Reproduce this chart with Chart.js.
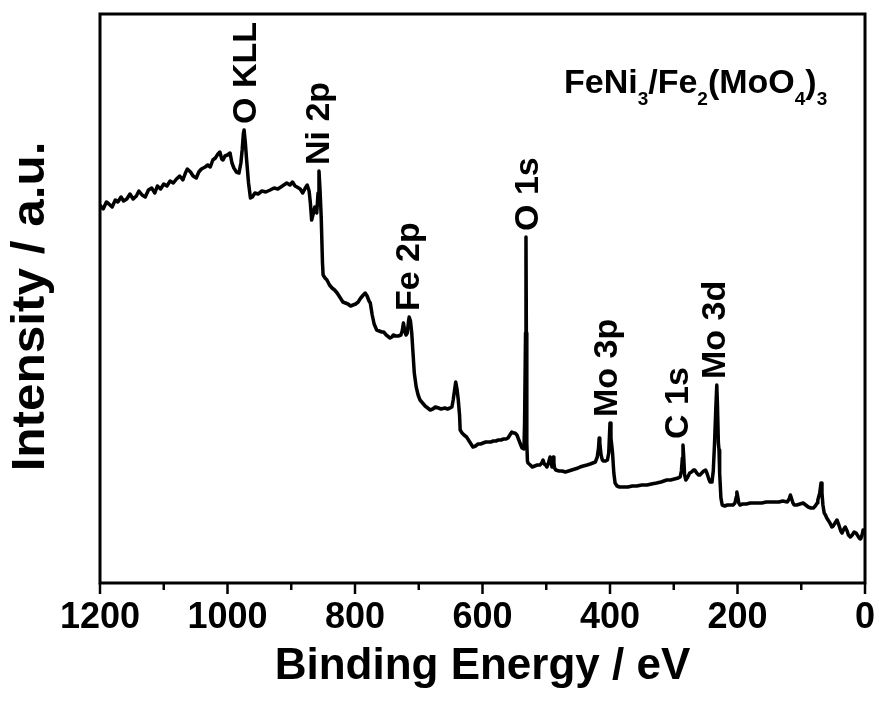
<!DOCTYPE html>
<html>
<head>
<meta charset="utf-8">
<script src="https://cdn.jsdelivr.net/npm/chart.js@4/dist/chart.umd.min.js"></script>
<style>
  html, body { margin: 0; padding: 0; background: #fff; }
  #wrap { width: 879px; height: 707px; }
</style>
</head>
<body>
<div id="wrap"><canvas id="xps" width="879" height="707"></canvas></div>
<script>
// XPS survey spectrum of FeNi3/Fe2(MoO4)3: binding energy (eV) and intensity (a.u.)
const bindingEnergy = [
  1200, 1195, 1190, 1186, 1181, 1176, 1172, 1167, 1163, 1158,
  1153, 1148, 1143, 1139, 1134, 1129, 1124, 1119, 1114, 1110,
  1105, 1100, 1095, 1090, 1085, 1080, 1075, 1070, 1066, 1063,
  1058, 1054, 1049, 1045, 1041, 1035, 1031, 1027, 1023, 1019,
  1015, 1012, 1009, 1007, 1004, 1000, 996, 993, 990, 986,
  982, 979, 977, 975, 974, 972, 970, 967, 964, 961,
  957, 952, 946, 940, 933, 927, 921, 914, 907, 902,
  898, 894, 891, 886, 882, 878, 875, 872, 870, 868,
  866, 863, 861, 860, 858, 856.5, 855, 853, 851, 850,
  847, 844, 840, 836, 832, 828, 824, 819, 815, 811,
  807, 803, 799, 795, 791, 787, 784, 781, 778, 776,
  773, 770, 766, 762, 758, 755, 751, 747, 745, 742,
  740, 736, 732, 728, 726, 724, 722, 720, 718, 716,
  715, 713, 711, 709, 707, 704, 701, 698, 694, 690,
  686, 682, 678, 674, 669, 665, 659, 655, 651, 648,
  646, 644, 642, 640, 638, 636, 635, 632, 629, 625,
  621, 618, 615, 611, 607, 603, 599, 595, 591, 587,
  583, 579, 575, 571, 567, 563, 560, 557, 554, 551,
  549, 546, 543, 540, 538, 535, 534, 532.5, 531.8, 531.2,
  530.5, 529.5, 528.6, 525, 522, 518, 514, 510, 507, 505,
  503, 501, 499, 497, 494, 492, 491, 490, 489, 488,
  487, 485, 480, 475, 470, 465, 460, 455, 450, 447,
  442, 436, 431, 427, 423, 420, 418, 417, 416, 414,
  412, 410, 407, 404, 402, 400, 398.5, 396, 394, 392,
  389, 385, 380, 372, 365, 358, 350, 342, 335, 327,
  320, 311, 305, 299, 293, 290, 288, 286.5, 285.5, 284.5,
  283, 281, 278, 275, 272, 269, 267, 264, 261, 259,
  256, 253, 250, 248, 245, 243, 240, 238, 236, 234,
  232.5, 231.5, 230, 229, 228, 226, 224, 220, 216, 212,
  207, 204, 202, 201, 199.5, 198, 196, 192, 186, 180,
  174, 168, 162, 155, 148, 141, 135, 129, 122, 119,
  117, 115, 113, 111, 107, 102, 97, 93, 89, 85,
  81, 78, 75, 74, 71, 69, 67.5, 66, 64, 62,
  60, 58, 55, 52, 50, 47, 44, 41, 38, 36,
  34, 31, 28, 26, 23, 20, 17, 14, 12, 9,
  7, 5, 3, 1, 0
];
const intensity = [
  378, 374, 381, 379, 376, 383, 381, 386, 382, 384,
  389, 384, 387, 392, 388, 386, 393, 395, 390, 397,
  394, 399, 397, 402, 400, 404, 407, 403, 410, 414,
  411, 407, 405, 411, 414, 416, 418, 416, 423, 425,
  429, 431, 424, 423, 427, 428, 430, 420, 415, 411,
  410, 420, 433, 450, 453, 440, 423, 400, 385, 386,
  390, 389, 392, 391, 393, 395, 394, 397, 400, 398,
  401, 397, 396, 394, 390, 395, 398, 392, 380, 363,
  368, 376, 372, 370, 390, 412, 395, 366, 320, 308,
  305, 303, 298, 295, 293, 290, 286, 281, 280, 279,
  277, 278, 279, 281, 285, 288, 290, 287, 282, 280,
  268, 259, 253, 252, 251, 251, 248, 246, 245, 246,
  248, 247, 247, 248, 252, 260, 252, 248, 250, 262,
  266, 262, 250, 230, 210, 196, 188, 183, 180, 177,
  175, 173, 174, 176, 175, 174, 175, 174, 175, 176,
  183, 192, 201, 194, 183, 168, 153, 150, 148, 146,
  142, 139, 136, 137, 139, 139, 140, 141, 141, 141,
  142, 142, 143, 143, 144, 144, 145, 148, 151, 150,
  150, 148, 143, 138, 135, 134, 160, 250, 346, 250,
  140, 122, 120, 118, 116, 117, 118, 118, 120, 123,
  119, 118, 116, 119, 126, 119, 116, 120, 126, 120,
  115, 113, 112, 112, 111, 112, 113, 114, 115, 116,
  117, 118, 119, 120, 121, 126, 135, 145, 140, 128,
  123, 122, 122, 123, 130, 160, 145, 130, 110, 100,
  97, 96, 96, 96, 97, 97, 98, 98, 99, 100,
  101, 103, 103, 104, 105, 106, 112, 125, 138, 128,
  108, 103, 106, 110, 111, 113, 113, 110, 108, 108,
  110, 112, 113, 110, 104, 101, 101, 112, 140, 175,
  198, 180, 140, 133, 110, 85, 78, 77, 78, 78,
  78, 80, 86, 91, 86, 80, 78, 79, 79, 80,
  80, 80, 80, 81, 81, 81, 81, 82, 81, 84,
  88, 84, 80, 78, 78, 79, 80, 78, 76, 75,
  75, 77, 80, 83, 90, 100, 90, 78, 70, 68,
  65, 63, 60, 56, 57, 60, 63, 58, 52, 50,
  53, 56, 52, 48, 46, 48, 51, 50, 48, 45,
  44, 47, 53, 50, 48
];

// Axis ticks (eV)
const xTickValues = [1200, 1000, 800, 600, 400, 200, 0];
const xMinorTicks = [1100, 900, 700, 500, 300, 100];

// Peak assignments and the energies their labels sit over
const peakNames = ['O KLL', 'Ni 2p', 'Fe 2p', 'O 1s', 'Mo 3p', 'C 1s', 'Mo 3d'];
const peakLabelEnergy = [970, 855, 714, 527, 404, 292, 234];

// Sample name: [text, isSubscript]
const formulaParts = [['FeNi', 0], ['3', 1], ['/Fe', 0], ['2', 1], ['(MoO', 0], ['4', 1], [')', 0], ['3', 1]];

const yTitle = 'Intensity / a.u.';

const FONT = "'Liberation Sans', Arial, Helvetica, sans-serif";
const points = bindingEnergy.map((e, i) => ({ x: e, y: intensity[i] }));

// Frame, tick marks, peak labels, sample name and the intensity axis title
const decorations = {
  id: 'xpsDecor',
  afterDatasetsDraw(chart) {
    const { ctx, chartArea: a, scales: { x, y } } = chart;
    ctx.save();
    ctx.strokeStyle = '#000';
    ctx.lineWidth = 3;
    ctx.strokeRect(a.left, a.top, a.right - a.left, a.bottom - a.top);

    ctx.lineWidth = 2.5;
    const tick = (v, len) => {
      const px = x.getPixelForValue(v);
      ctx.beginPath();
      ctx.moveTo(px, a.bottom);
      ctx.lineTo(px, a.bottom + len);
      ctx.stroke();
    };
    xTickValues.forEach(v => tick(v, 11));
    xMinorTicks.forEach(v => tick(v, 7));

    ctx.fillStyle = '#000';
    ctx.font = `bold 34px ${FONT}`;
    ctx.textAlign = 'left';
    ctx.textBaseline = 'middle';
    peakNames.forEach((name, i) => {
      const e0 = peakLabelEnergy[i];
      let top = -Infinity;
      bindingEnergy.forEach((e, j) => {
        if (Math.abs(e - e0) <= 8 && intensity[j] > top) top = intensity[j];
      });
      const px = x.getPixelForValue(e0);
      const py = y.getPixelForValue(top) - 6;
      ctx.save();
      ctx.translate(px, py);
      ctx.rotate(-Math.PI / 2);
      ctx.fillText(name, 0, 0);
      ctx.restore();
    });

    let cx = a.right - 301;
    const base = a.top + 79;
    ctx.textBaseline = 'alphabetic';
    formulaParts.forEach(([t, sub]) => {
      ctx.font = sub ? `bold 19px ${FONT}` : `bold 34px ${FONT}`;
      ctx.fillText(t, cx, sub ? base + 12 : base);
      cx += ctx.measureText(t).width;
    });

    ctx.font = `bold 46px ${FONT}`;
    ctx.textAlign = 'center';
    ctx.textBaseline = 'middle';
    ctx.save();
    ctx.translate(31, (a.top + a.bottom) / 2 + 8);
    ctx.rotate(-Math.PI / 2);
    ctx.scale(1.075, 1);
    ctx.fillText(yTitle, 0, 0);
    ctx.restore();
    ctx.restore();
  }
};

new Chart(document.getElementById('xps'), {
  type: 'line',
  data: {
    datasets: [{
      data: points,
      borderColor: '#000',
      borderWidth: 3.5,
      pointRadius: 0,
      tension: 0,
      fill: false,
      borderJoinStyle: 'round'
    }]
  },
  options: {
    responsive: false,
    animation: false,
    devicePixelRatio: 1,
    layout: { padding: { top: 14, right: 14, left: 0, bottom: 0 } },
    plugins: { legend: { display: false }, tooltip: { enabled: false } },
    scales: {
      x: {
        type: 'linear',
        reverse: true,
        min: 0,
        max: 1200,
        afterBuildTicks: s => { s.ticks = xTickValues.map(v => ({ value: v })); },
        afterFit: s => { s.height = 124; s.paddingLeft = 0; s.paddingRight = 0; },
        grid: { display: false, drawTicks: false },
        border: { display: false },
        ticks: {
          color: '#000', padding: 13, maxRotation: 0, autoSkip: false,
          font: { family: FONT, size: 36, weight: 'bold' },
          callback: v => String(v)
        },
        title: {
          display: true, text: 'Binding Energy / eV', color: '#000',
          font: { family: FONT, size: 44, weight: 'bold' },
          padding: { top: 0, bottom: 14 }
        }
      },
      y: {
        min: 0,
        max: 569,
        afterFit: s => { s.width = 100; },
        grid: { display: false, drawTicks: false },
        border: { display: false },
        ticks: { display: false },
        title: { display: false }
      }
    }
  },
  plugins: [decorations]
});
</script>
</body>
</html>
